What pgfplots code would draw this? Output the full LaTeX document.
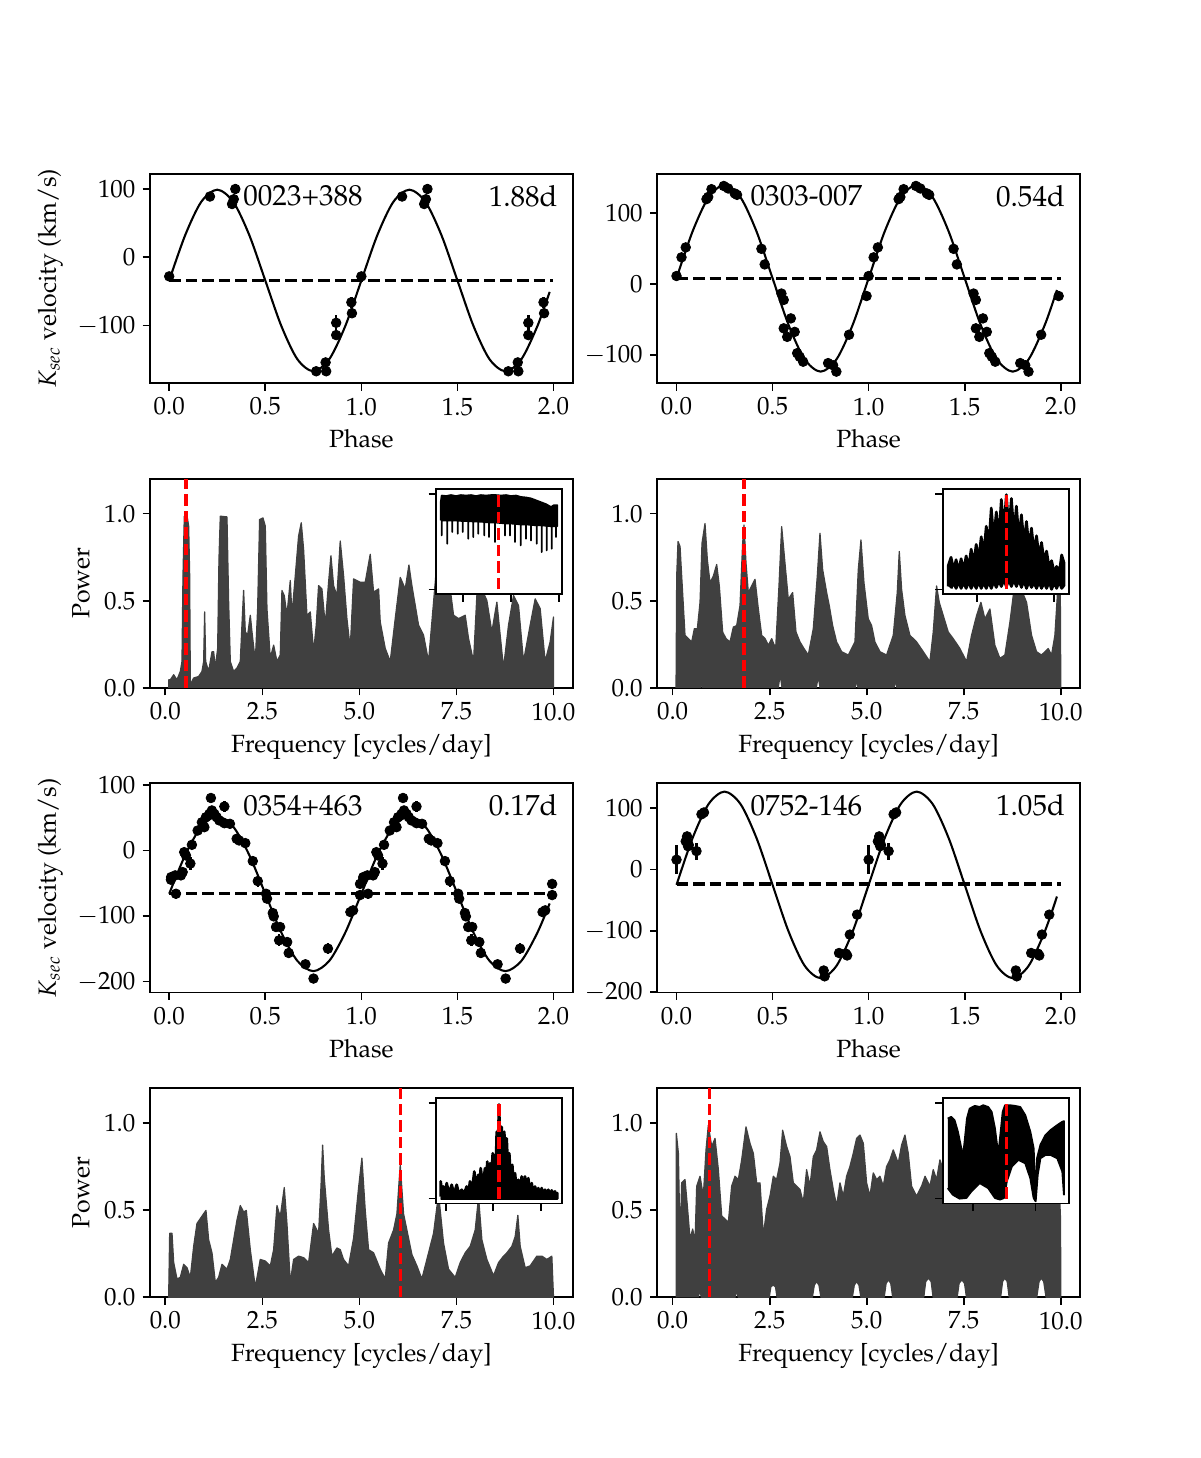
\documentclass[border=0pt]{standalone}
\usepackage[T1]{fontenc}
\usepackage{mathpazo}
\usepackage{pgfplots}
\pgfplotsset{compat=1.18}
\usepackage{pgfplotstable}
\definecolor{pgray}{RGB}{64,64,64}
\definecolor{mred}{RGB}{255,0,0}

\pgfplotstableread{
p v e
0.000 -28 3
0.212 89 3
0.327 78 3
0.336 85 3
0.344 100 7
0.765 -167 3
0.817 -167 3
0.814 -154 3
0.869 -96 12
0.869 -114 4
0.948 -66 8
0.951 -82 4
}\dA

\pgfplotstableread{
p v e
0.000 11.7 2
0.026 38 2
0.048 52 2
0.156 120 2
0.165 123 2
0.182 134 2
0.246 138.5 2
0.269 135 2
0.303 128 2
0.315 126 2
0.442 50 2
0.459 28 2
0.546 -13 2
0.558 -22 2
0.595 -48 2
0.558 -62 2
0.576 -74 2
0.615 -67 2
0.628 -97 2
0.641 -102 2
0.659 -109 2
0.789 -111 2
0.815 -114 2
0.832 -123 2
0.898 -71 2
0.989 -16.5 2
}\dB

\pgfplotstableread{
p v e
0.009 -44.6 4
0.010 -40.6 4
0.035 -66 8
0.031 -38 4
0.061 -38 4
0.070 -33 4
0.078 -2.6 4
0.087 -7.6 4
0.110 -20 10
0.118 8.6 4
0.148 30.4 4
0.170 43 4
0.183 35.5 6
0.191 50.7 4
0.209 55.8 4
0.217 80 5
0.222 61 4
0.235 55.8 4
0.247 50.7 4
0.261 45.7 4
0.287 67 9
0.287 41.6 4
0.316 40.6 4
0.351 17.8 4
0.364 15.2 4
0.396 11.2 4
0.435 -16.2 4
0.461 -46.7 9
0.504 -66 4
0.509 -73.5 4
0.539 -95.4 4
0.544 -100.5 4
0.556 -116.7 4
0.577 -116.7 4
0.572 -137 9
0.614 -139.6 4
0.622 -156.3 4
0.709 -173.5 4
0.751 -195.3 5
0.826 -149.6 9
0.943 -93.9 4
0.957 -91.3 4
0.993 -51 4
0.993 -68 4
}\dC

\pgfplotstableread{
p v e
0.000 16 24
0.048 46 12
0.055 54 6
0.060 38 6
0.064 40 6
0.104 30 14
0.130 90 4
0.143 93 4
0.766 -164.5 6
0.771 -174 8
0.846 -136 5
0.881 -137 5
0.888 -140 5
0.902 -106 5
0.940 -73.5 5
}\dD

\tikzset{annlab/.style={font=\fontsize{14}{16}\selectfont, inner sep=0pt}}
\pgfplotsset{
  mainax/.style={width=202.9bp, height=100.46bp, scale only axis, anchor=south west,
    axis line style={line width=0.8bp}, tick style={line width=0.8bp, black},
    tick align=outside, major tick length=3.5bp, tick pos=left,
    tick label style={font=\fontsize{12}{14}\selectfont},
    label style={font=\fontsize{12}{14}\selectfont}},
  phase/.style={mainax, xmin=-0.1, xmax=2.1, xtick={0,0.5,1,1.5,2},
    xticklabels={$0.0$,$0.5$,$1.0$,$1.5$,$2.0$}, xlabel={Phase}},
  pgram/.style={mainax, xmin=-0.395, xmax=10.495, ymin=0, ymax=1.2,
    xtick={0,2.5,5,7.5,10}, xticklabels={$0.0$,$2.5$,$5.0$,$7.5$,$10.0$},
    ytick={0,0.5,1}, yticklabels={$0.0$,$0.5$,$1.0$}, xlabel={Frequency [cycles/day]}},
  inset/.style={width=60.62bp, height=50.64bp, scale only axis, anchor=south west,
    xmin=0, xmax=126.3, ymin=-0.051, ymax=1.052, ytick={0,1}, yticklabels={}, xticklabels={},
    tick align=outside, major tick length=3.5bp, tick pos=left,
    tick style={line width=0.8bp, black},
    axis background/.style={fill=white}, axis line style={line width=0.8bp}},
  fitline/.style={black, line width=1bp, smooth, no markers},
  gline/.style={black, line width=1.5bp, dash pattern=on 5.55bp off 2.4bp, no markers},
  redd/.style={mred, line width=1.5bp, dash pattern=on 5.55bp off 2.4bp, no markers},
  pg/.style={fill=pgray, draw=pgray, line width=0.6bp, line join=round, no markers},
  ins/.style={fill=black, draw=black, line width=0.9bp, line join=round, no markers},
  insc/.style={fill=black, draw=black, line width=1.3bp, line join=round, no markers},
  pts/.style={only marks, mark=*, mark size=2.3bp, black,
    error bars/.cd, y dir=both, y explicit, error mark=none,
    error bar style={line width=1.2bp, black}},
}

\begin{document}
\begin{tikzpicture}
\useasboundingbox (0,0) rectangle (576bp,699.84bp);

% ---------------- Row 1 left: 0023+388
\begin{axis}[phase, at={(72bp,515.86bp)}, ymin=-184.6, ymax=122,
  ytick={-100,0,100}, yticklabels={$-100$,$0$,$100$},
  ylabel={$K_{sec}$ velocity (km/s)}]
\addplot[fitline] coordinates {(0,-34) (0.0833,32.5) (0.1667,81.2) (0.25,99) (0.3333,81.2) (0.4167,32.5) (0.5,-34) (0.5833,-100.5) (0.6667,-149.2) (0.75,-167) (0.8333,-149.2) (0.9167,-100.5) (1,-34) (1.0833,32.5) (1.1667,81.2) (1.25,99) (1.3333,81.2) (1.4167,32.5) (1.5,-34) (1.5833,-100.5) (1.6667,-149.2) (1.75,-167) (1.8333,-149.2) (1.9167,-100.5) (1.98,-50.7)};
\addplot[gline] coordinates {(0,-34) (2,-34)};
\addplot[pts] table[x=p, y=v, y error=e] {\dA};
\addplot[pts] table[x expr=\thisrow{p}+1, y=v, y error=e] {\dA};
\node[annlab, anchor=west] at (rel axis cs:0.22,0.895) {0023+388};
\node[annlab, anchor=east] at (rel axis cs:0.965,0.895) {1.88d};
\end{axis}

% ---------------- Row 1 right: 0303-007
\begin{axis}[phase, at={(315.5bp,515.86bp)}, ymin=-139.4, ymax=155.4,
  ytick={-100,0,100}, yticklabels={$-100$,$0$,$100$}]
\addplot[fitline] coordinates {(0,8.5) (0.0833,74.25) (0.1667,122.4) (0.25,140) (0.3333,122.4) (0.4167,74.25) (0.5,8.5) (0.5833,-57.25) (0.6667,-105.4) (0.75,-123) (0.8333,-105.4) (0.9167,-57.25) (1,8.5) (1.0833,74.25) (1.1667,122.4) (1.25,140) (1.3333,122.4) (1.4167,74.25) (1.5,8.5) (1.5833,-57.25) (1.6667,-105.4) (1.75,-123) (1.8333,-105.4) (1.9167,-57.25) (1.98,-8)};
\addplot[gline] coordinates {(0,8.5) (2,8.5)};
\addplot[pts] table[x=p, y=v, y error=e] {\dB};
\addplot[pts] table[x expr=\thisrow{p}+1, y=v, y error=e] {\dB};
\node[annlab, anchor=west] at (rel axis cs:0.22,0.895) {0303-007};
\node[annlab, anchor=east] at (rel axis cs:0.965,0.895) {0.54d};
\end{axis}

% ---------------- Row 2 left: periodogram 0023+388
\begin{axis}[pgram, at={(72bp,369.6bp)}, ylabel={Power}]
\addplot[pg] coordinates {(0.086,0) (0.086,0.047) (0.129,0.047) (0.215,0.076) (0.300,0.047) (0.386,0.095) (0.429,0.152) (0.455,0.644) (0.489,0.985) (0.558,0.989) (0.601,0.928) (0.627,0.644) (0.644,0.019) (0.730,0.057) (0.858,0.066) (0.944,0.095) (0.987,0.152) (1.013,0.436) (1.039,0.152) (1.116,0.095) (1.202,0.208) (1.245,0.208) (1.288,0.114) (1.348,0.227) (1.382,0.739) (1.416,0.985) (1.588,0.981) (1.631,0.492) (1.674,0.152) (1.760,0.095) (1.845,0.114) (1.931,0.152) (1.974,0.360) (2.017,0.559) (2.060,0.322) (2.120,0.303) (2.189,0.417) (2.232,0.322) (2.318,0.152) (2.378,0.455) (2.429,0.966) (2.515,0.975) (2.575,0.928) (2.618,0.455) (2.704,0.170) (2.790,0.246) (2.876,0.152) (2.961,0.189) (3.004,0.559) (3.064,0.530) (3.133,0.417) (3.219,0.616) (3.262,0.417) (3.348,0.644) (3.433,0.871) (3.502,0.947) (3.562,0.795) (3.648,0.417) (3.734,0.436) (3.820,0.208) (3.888,0.360) (3.948,0.587) (4.034,0.568) (4.120,0.360) (4.206,0.606) (4.266,0.758) (4.335,0.587) (4.421,0.530) (4.506,0.843) (4.592,0.644) (4.678,0.398) (4.764,0.227) (4.850,0.625) (5.021,0.606) (5.150,0.606) (5.279,0.767) (5.365,0.549) (5.494,0.568) (5.536,0.379) (5.665,0.227) (5.794,0.152) (5.923,0.398) (6.052,0.634) (6.180,0.568) (6.275,0.705) (6.352,0.587) (6.524,0.360) (6.652,0.303) (6.781,0.152) (6.910,0.492) (7.039,0.833) (7.167,0.871) (7.296,0.644) (7.425,0.417) (7.554,0.398) (7.725,0.417) (7.811,0.284) (7.940,0.152) (8.026,0.530) (8.112,0.587) (8.283,0.502) (8.412,0.322) (8.541,0.492) (8.712,0.114) (8.841,0.360) (8.970,0.530) (9.099,0.473) (9.227,0.152) (9.399,0.360) (9.528,0.511) (9.657,0.455) (9.785,0.152) (9.914,0.265) (10.0,0.407) (10.0,0)} \closedcycle;
\addplot[redd] coordinates {(0.532,0) (0.532,1.2)};
\end{axis}
\begin{axis}[inset, at={(209.28bp,414.6bp)}, xtick={26.7,74.7,122.7}]
\addplot[ins] coordinates {(4.7,0.72) (4.7,0.90) (5.7,0.98) (10,0.975) (15,0.985) (20,0.975) (25,0.985) (30,0.98) (35,0.985) (40,0.975) (45,0.985) (50,0.98) (55,0.985) (60,0.985) (65,0.98) (70,0.985) (75,0.975) (80,0.98) (85,0.965) (90,0.96) (95,0.95) (100,0.93) (105,0.91) (110,0.89) (115,0.86) (118,0.88) (121.3,0.88) (121.3,0.66)
(120,0.66) (120,0.547) (120,0.66) (115.7,0.66) (115.7,0.425) (115.7,0.66) (110.7,0.665) (110.7,0.408) (110.7,0.665) (105.7,0.67) (105.7,0.39) (105.7,0.67) (100.7,0.67) (100.7,0.478) (100.7,0.67) (95,0.675) (95,0.512) (95,0.675) (90,0.68) (90,0.53) (90,0.68) (84.7,0.68) (84.7,0.46) (84.7,0.68) (79,0.685) (79,0.495) (79,0.685) (74,0.69) (74,0.565) (74,0.69) (69,0.69) (69,0.565) (69,0.69) (59,0.7) (59,0.495) (59,0.7) (53,0.7) (53,0.547) (53,0.7) (48.3,0.705) (48.3,0.565) (48.3,0.705) (42.3,0.71) (42.3,0.582) (42.3,0.71) (37.3,0.71) (37.3,0.547) (37.3,0.71) (32.3,0.715) (32.3,0.53) (32.3,0.715) (26.7,0.715) (26.7,0.60) (26.7,0.715) (21.7,0.72) (21.7,0.582) (21.7,0.72) (16.3,0.72) (16.3,0.60) (16.3,0.72) (11.3,0.72) (11.3,0.478) (11.3,0.72) (5.7,0.72) (5.7,0.565) (5.7,0.72)};
\addplot[redd] coordinates {(62.3,0) (62.3,1)};
\end{axis}

% ---------------- Row 2 right: periodogram 0303-007
\begin{axis}[pgram, at={(315.5bp,369.6bp)}]
\addplot[pg] coordinates {(0.088,0) (0.105,0.642) (0.139,0.840) (0.191,0.811) (0.233,0.642) (0.319,0.302) (0.405,0.283) (0.491,0.264) (0.560,0.340) (0.637,0.340) (0.706,0.491) (0.757,0.830) (0.834,0.943) (0.894,0.736) (0.963,0.604) (1.049,0.642) (1.135,0.708) (1.203,0.585) (1.289,0.321) (1.375,0.283) (1.478,0.264) (1.564,0.349) (1.650,0.358) (1.736,0.472) (1.804,0.830) (1.839,0.934) (1.890,0.717) (1.950,0.547) (2.036,0.585) (2.122,0.623) (2.208,0.453) (2.294,0.302) (2.380,0.283) (2.465,0.245) (2.551,0.283) (2.654,0.226) (2.740,0.585) (2.809,0.925) (2.894,0.717) (2.980,0.509) (3.092,0.547) (3.178,0.321) (3.281,0.264) (3.384,0.226) (3.495,0.189) (3.624,0.340) (3.727,0.642) (3.796,0.887) (3.865,0.679) (3.968,0.547) (4.036,0.472) (4.122,0.358) (4.225,0.264) (4.354,0.208) (4.526,0.189) (4.697,0.264) (4.783,0.679) (4.852,0.849) (4.929,0.604) (5.040,0.396) (5.126,0.358) (5.212,0.264) (5.341,0.208) (5.512,0.189) (5.684,0.302) (5.787,0.547) (5.839,0.783) (5.899,0.566) (5.985,0.415) (6.113,0.302) (6.285,0.264) (6.457,0.208) (6.628,0.151) (6.714,0.321) (6.800,0.585) (6.869,0.491) (6.972,0.415) (7.100,0.321) (7.229,0.283) (7.401,0.226) (7.573,0.151) (7.701,0.302) (7.830,0.415) (7.942,0.491) (8.045,0.396) (8.174,0.453) (8.302,0.245) (8.431,0.170) (8.560,0.189) (8.689,0.377) (8.817,0.604) (8.920,0.660) (9.015,0.547) (9.118,0.491) (9.247,0.302) (9.375,0.208) (9.504,0.189) (9.676,0.226) (9.762,0.189) (9.848,0.302) (9.916,0.547) (9.985,0.642) (10.0,0)
(5.78,0) (5.74,0.04) (5.70,0) (4.78,0) (4.74,0.04) (4.70,0) (3.80,0) (3.75,0.065) (3.70,0) (2.82,0) (2.77,0.075) (2.72,0) (0.78,0) (0.75,0.03) (0.72,0)};
\addplot[redd] coordinates {(1.84,0) (1.84,1.2)};
\end{axis}
\begin{axis}[inset, at={(452.5bp,414.6bp)}, xmax=125.6, xtick={34,110.6}]
\addplot[insc] coordinates {(5.6,0.03) (5.6,0.25) (8.3,0.335) (10.8,0.2) (13.3,0.31) (15.8,0.19) (18.3,0.32) (20.8,0.2) (23.3,0.35) (25.8,0.23) (28.3,0.42) (30.8,0.27) (33.3,0.47) (35.8,0.31) (38.3,0.55) (40.8,0.37) (43.3,0.66) (45.8,0.46) (48.3,0.85) (50.8,0.52) (53.3,0.81) (55.8,0.54) (58.3,0.94) (60.8,0.63) (63.3,0.99) (65.8,0.63) (68.3,0.95) (70.8,0.59) (73.3,0.87) (75.8,0.53) (78.3,0.78) (80.8,0.48) (83.3,0.71) (85.8,0.44) (88.3,0.64) (90.8,0.39) (93.3,0.56) (95.8,0.34) (98.3,0.49) (100.8,0.29) (103.3,0.40) (105.8,0.23) (108.3,0.30) (110.8,0.18) (113.3,0.24) (115.8,0.17) (118.3,0.36) (120.6,0.28) (120.6,0.04)
(118.3,0.01) (115.8,0.08) (113.3,0.01) (110.8,0.07) (108.3,0.0) (105.8,0.08) (103.3,0.01) (100.8,0.07) (98.3,0.01) (95.8,0.08) (93.3,0.01) (90.8,0.07) (88.3,0.02) (85.8,0.08) (83.3,0.01) (80.8,0.09) (78.3,0.02) (75.8,0.1) (73.3,0.03) (70.8,0.1) (68.3,0.03) (65.8,0.1) (63.3,0.03) (60.8,0.1) (58.3,0.03) (55.8,0.09) (53.3,0.02) (50.8,0.08) (48.3,0.01) (45.8,0.08) (43.3,0.01) (40.8,0.07) (38.3,0.01) (35.8,0.08) (33.3,0.01) (30.8,0.07) (28.3,0.01) (25.8,0.08) (23.3,0.01) (20.8,0.07) (18.3,0.01) (15.8,0.08) (13.3,0.01) (10.8,0.07) (8.3,0.01)};
\addplot[redd] coordinates {(63.3,0) (63.3,1)};
\end{axis}

% ---------------- Row 3 left: 0354+463
\begin{axis}[phase, at={(72bp,223.39bp)}, ymin=-216.7, ymax=102.4,
  ytick={-200,-100,0,100}, yticklabels={$-200$,$-100$,$0$,$100$},
  ylabel={$K_{sec}$ velocity (km/s)}]
\addplot[fitline] coordinates {(0,-66) (0.0833,-7) (0.1667,36.2) (0.25,52) (0.3333,36.2) (0.4167,-7) (0.5,-66) (0.5833,-125) (0.6667,-168.2) (0.75,-184) (0.8333,-168.2) (0.9167,-125) (1,-66) (1.0833,-7) (1.1667,36.2) (1.25,52) (1.3333,36.2) (1.4167,-7) (1.5,-66) (1.5833,-125) (1.6667,-168.2) (1.75,-184) (1.8333,-168.2) (1.9167,-125) (1.98,-80.8)};
\addplot[gline] coordinates {(0,-66) (2,-66)};
\addplot[pts] table[x=p, y=v, y error=e] {\dC};
\addplot[pts] table[x expr=\thisrow{p}+1, y=v, y error=e] {\dC};
\node[annlab, anchor=west] at (rel axis cs:0.22,0.895) {0354+463};
\node[annlab, anchor=east] at (rel axis cs:0.965,0.895) {0.17d};
\end{axis}

% ---------------- Row 3 right: 0752-146
\begin{axis}[phase, at={(315.5bp,223.39bp)}, ymin=-200.5, ymax=140.5,
  ytick={-200,-100,0,100}, yticklabels={$-200$,$-100$,$0$,$100$}]
\addplot[fitline] coordinates {(0,-25) (0.0833,51) (0.1667,106.6) (0.25,127) (0.3333,106.6) (0.4167,51) (0.5,-25) (0.5833,-101) (0.6667,-156.6) (0.75,-177) (0.8333,-156.6) (0.9167,-101) (1,-25) (1.0833,51) (1.1667,106.6) (1.25,127) (1.3333,106.6) (1.4167,51) (1.5,-25) (1.5833,-101) (1.6667,-156.6) (1.75,-177) (1.8333,-156.6) (1.9167,-101) (1.98,-44)};
\addplot[gline] coordinates {(0,-23.5) (2,-23.5)};
\addplot[pts] table[x=p, y=v, y error=e] {\dD};
\addplot[pts] table[x expr=\thisrow{p}+1, y=v, y error=e] {\dD};
\node[annlab, anchor=west] at (rel axis cs:0.22,0.895) {0752-146};
\node[annlab, anchor=east] at (rel axis cs:0.965,0.895) {1.05d};
\end{axis}

% ---------------- Row 4 left: periodogram 0354+463
\begin{axis}[pgram, at={(72bp,77.14bp)}, ylabel={Power}]
\addplot[pg] coordinates {(0.086,0) (0.112,0.367) (0.172,0.367) (0.215,0.199) (0.300,0.105) (0.386,0.114) (0.472,0.189) (0.558,0.170) (0.644,0.114) (0.730,0.292) (0.815,0.423) (0.901,0.451) (0.987,0.479) (1.047,0.498) (1.116,0.330) (1.202,0.255) (1.288,0.086) (1.373,0.114) (1.459,0.189) (1.588,0.161) (1.674,0.217) (1.760,0.330) (1.845,0.442) (1.931,0.526) (2.017,0.489) (2.086,0.498) (2.189,0.273) (2.318,0.058) (2.446,0.217) (2.575,0.208) (2.704,0.180) (2.790,0.273) (2.876,0.526) (2.961,0.461) (3.064,0.629) (3.133,0.423) (3.219,0.086) (3.305,0.217) (3.433,0.236) (3.562,0.227) (3.691,0.199) (3.820,0.423) (3.948,0.367) (4.009,0.629) (4.052,0.873) (4.094,0.685) (4.206,0.386) (4.292,0.236) (4.421,0.283) (4.506,0.273) (4.592,0.217) (4.721,0.180) (4.850,0.339) (4.979,0.629) (5.064,0.798) (5.150,0.498) (5.236,0.273) (5.365,0.255) (5.536,0.161) (5.665,0.105) (5.751,0.311) (5.880,0.386) (5.966,0.479) (6.052,0.760) (6.137,0.479) (6.223,0.386) (6.352,0.245) (6.481,0.180) (6.609,0.105) (6.738,0.217) (6.910,0.367) (7.039,0.592) (7.167,0.311) (7.296,0.161) (7.468,0.114) (7.597,0.199) (7.725,0.255) (7.854,0.292) (7.983,0.386) (8.069,0.573) (8.155,0.330) (8.283,0.217) (8.455,0.124) (8.584,0.199) (8.712,0.236) (8.798,0.255) (8.927,0.292) (9.013,0.348) (9.082,0.470) (9.142,0.292) (9.270,0.170) (9.399,0.180) (9.571,0.236) (9.700,0.236) (9.828,0.217) (9.957,0.236) (10.0,0)} \closedcycle;
\addplot[redd] coordinates {(6.05,0) (6.05,1.2)};
\end{axis}
\begin{axis}[inset, at={(209.28bp,122.16bp)}, xtick={9.7,57.3,105}]
\addplot[insc] coordinates {(4.7,0.02) (4.7,0.18) (6,0.06) (7.3,0.127) (9,0.05) (10.7,0.162) (13,0.05) (15.7,0.145) (18,0.05) (20.7,0.145) (23,0.05) (25.7,0.093) (28,0.05) (30.7,0.127) (32.5,0.06) (34,0.18) (36,0.08) (38.3,0.283) (40.3,0.12) (42.3,0.249) (43.5,0.12) (44.7,0.318) (47,0.14) (49,0.318) (50.2,0.16) (51.3,0.387) (52.7,0.18) (54,0.37) (55.3,0.2) (56.7,0.474) (57.9,0.25) (59,0.457) (59.8,0.3) (60.7,0.699) (61.8,0.5) (63,0.983) (64.3,0.55) (65.7,0.75) (67,0.45) (68.3,0.699) (69.5,0.35) (70.7,0.63) (72,0.3) (73.3,0.474) (74.8,0.2) (76.3,0.353) (77.7,0.14) (79,0.266) (80.7,0.1) (82.3,0.197) (84,0.08) (85.7,0.232) (87.3,0.08) (89,0.232) (90.7,0.07) (92.3,0.214) (94,0.06) (95.7,0.162) (97.3,0.05) (99,0.127) (100.7,0.05) (102.3,0.11) (104,0.04) (105.7,0.11) (107.3,0.04) (109,0.093) (110.7,0.04) (112.3,0.093) (114,0.04) (115.7,0.086) (117.3,0.04) (119,0.076) (120.2,0.04) (121.3,0.058) (121.3,0.0) (4.7,0.0)};
\addplot[redd] coordinates {(63,0) (63,1)};
\end{axis}

% ---------------- Row 4 right: periodogram 0752-146
\begin{axis}[pgram, at={(315.5bp,77.14bp)}]
\addplot[pg] coordinates {(0.096,0) (0.096,0.940) (0.148,0.826) (0.191,0.316) (0.233,0.656) (0.319,0.675) (0.379,0.524) (0.448,0.335) (0.517,0.391) (0.577,0.316) (0.620,0.637) (0.706,0.694) (0.791,0.580) (0.860,0.845) (0.920,0.987) (1.006,0.864) (1.092,0.911) (1.178,0.732) (1.264,0.467) (1.350,0.448) (1.435,0.429) (1.521,0.637) (1.607,0.694) (1.693,0.675) (1.779,0.788) (1.890,0.977) (1.993,0.883) (2.079,0.826) (2.165,0.656) (2.251,0.656) (2.337,0.353) (2.422,0.505) (2.508,0.580) (2.594,0.694) (2.680,0.675) (2.766,0.769) (2.834,0.958) (2.937,0.864) (3.023,0.807) (3.109,0.656) (3.195,0.637) (3.281,0.618) (3.366,0.543) (3.452,0.732) (3.538,0.637) (3.624,0.807) (3.710,0.845) (3.796,0.949) (3.882,0.892) (3.968,0.864) (4.053,0.732) (4.139,0.618) (4.225,0.524) (4.311,0.656) (4.397,0.580) (4.482,0.694) (4.568,0.750) (4.654,0.826) (4.740,0.911) (4.826,0.930) (4.912,0.883) (4.997,0.656) (5.083,0.580) (5.169,0.713) (5.255,0.675) (5.341,0.694) (5.427,0.637) (5.512,0.750) (5.598,0.788) (5.684,0.845) (5.813,0.769) (5.899,0.873) (5.985,0.930) (6.070,0.826) (6.156,0.637) (6.285,0.580) (6.414,0.637) (6.503,0.694) (6.628,0.637) (6.714,0.732) (6.800,0.675) (6.886,0.788) (6.972,0.732) (7.100,0.826) (7.229,0.580) (7.401,0.713) (7.573,0.694) (7.701,0.732) (7.830,0.826) (7.959,0.864) (8.088,0.694) (8.217,0.637) (8.345,0.713) (8.474,0.750) (8.603,0.826) (8.732,0.883) (8.861,0.788) (8.990,0.750) (9.118,0.637) (9.290,0.732) (9.418,0.637) (9.547,0.769) (9.676,0.732) (9.805,0.637) (9.891,0.769) (9.959,0.637) (9.993,0.448) (10.0,0)
(9.62,0) (9.56,0.09) (9.50,0.11) (9.44,0.09) (9.38,0) (8.67,0) (8.62,0.09) (8.56,0.11) (8.50,0.09) (8.45,0) (7.57,0) (7.52,0.08) (7.45,0.10) (7.38,0.08) (7.33,0) (6.71,0) (6.66,0.09) (6.59,0.11) (6.52,0.09) (6.47,0) (5.67,0) (5.62,0.08) (5.56,0.10) (5.50,0.08) (5.45,0) (4.85,0) (4.80,0.07) (4.74,0.09) (4.68,0.07) (4.63,0) (3.82,0) (3.77,0.07) (3.71,0.09) (3.65,0.07) (3.60,0) (2.69,0) (2.65,0.06) (2.59,0.07) (2.53,0.06) (2.49,0) (1.69,0) (1.65,0.04) (1.61,0) (0.74,0) (0.70,0.04) (0.66,0)};
\addplot[redd] coordinates {(0.945,0) (0.945,1.2)};
\end{axis}
\begin{axis}[inset, at={(452.5bp,122.16bp)}, xmax=125, xtick={30,91.7}]
\addplot[ins] coordinates {(5,0.837) (8.4,0.855) (11.7,0.82) (15,0.699) (18.4,0.526) (20,0.439) (21.7,0.595) (24,0.837) (26.7,0.941) (31.7,0.969) (36.7,0.958) (40,0.976) (45,0.958) (48.4,0.907) (51.7,0.733) (55,0.456) (57.4,0.699) (59.4,0.907) (61.7,0.976) (66.7,0.976) (71.7,0.969) (76.7,0.958) (81.7,0.872) (86.7,0.699) (90,0.526) (91,0.249) (92,-0.01) (93.4,0.422) (96.7,0.561) (101.7,0.664) (106.7,0.716) (113.4,0.768) (118.4,0.803) (120,0.81)
(120,0.041) (118.4,0.283) (113.4,0.422) (106.7,0.457) (101.7,0.457) (96.7,0.422) (94,0.249) (92,-0.028) (90,0.007) (86.7,0.214) (81.7,0.37) (75,0.405) (68.4,0.335) (63.4,0.18) (60.7,0.007) (56.7,-0.01) (51.7,0.007) (45,0.11) (36.7,0.162) (28.4,0.076) (23.4,0.007) (16.7,0) (10,0.041) (5,0.11)};
\addplot[redd] coordinates {(62.7,0) (62.7,1)};
\end{axis}

\end{tikzpicture}
\end{document}
